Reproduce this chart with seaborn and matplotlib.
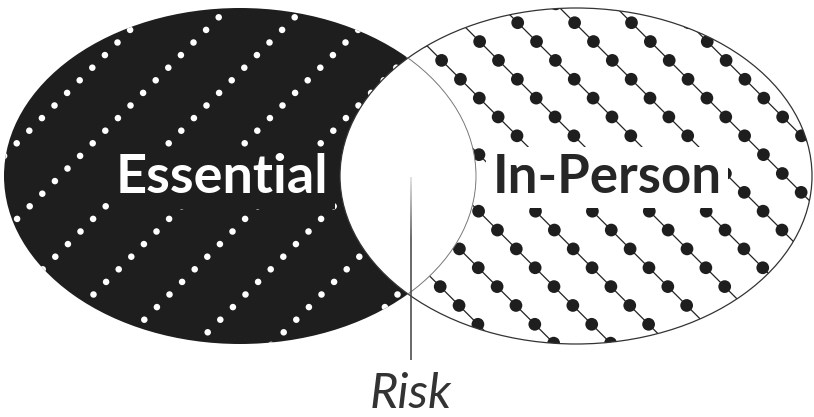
import numpy as np
import pandas as pd
import matplotlib
matplotlib.use("Agg")
import matplotlib.pyplot as plt
from matplotlib.patches import Ellipse
from matplotlib.collections import LineCollection
import seaborn as sns

# ---- content -------------------------------------------------------------
sets = ["Essential", "In-Person"]
overlap_label = "Risk"
set_text_colors = ["white", "#262626"]

# ---- style ---------------------------------------------------------------
sns.set_theme(style="white")
plt.rcParams["font.family"] = ["Lato", "DejaVu Sans"]

W, H = 814, 417
fig = plt.figure(figsize=(W / 100, H / 100), dpi=100)
ax = fig.add_axes([0, 0, 1, 1])

CY, A, B = 176, 236, 168
LX, RX = 240, 576
BLACK = "#1e1e1e"

# right set: white with dotted diagonal lines
rfill = Ellipse((RX, CY), 2 * A, 2 * B, fc="white", ec="none", zorder=1)
ax.add_patch(rfill)

r_base, r_sp, r_row0, r_step = 495.0, 56.9, 22.7, 18.85
r_cs = [r_base + k * r_sp for k in range(-12, 10)]
segs = [[(c - 20, -20), (c + H + 20, H + 20)] for c in r_cs]
lc = LineCollection(segs, colors="#222222", linewidths=0.9, zorder=2)
ax.add_collection(lc)
lc.set_clip_path(rfill)

rows = [r_row0 + j * r_step for j in range(-2, 22)]
rd = pd.DataFrame([(c + y, y) for c in r_cs for y in rows], columns=["x", "y"])
sns.scatterplot(data=rd, x="x", y="y", s=84, color=BLACK, edgecolor="none",
                linewidth=0, ax=ax, zorder=3, legend=False)
ax.collections[-1].set_clip_path(rfill)

# left set: black with white dots
lfill = Ellipse((LX, CY), 2 * A, 2 * B, fc=BLACK, ec="none", zorder=4)
ax.add_patch(lfill)

l_base, l_sp, l_row0, l_step = 236.0, 76.0, 17.3, 12.6
l_cs = [l_base + k * l_sp for k in range(-4, 12)]
lrows = [l_row0 + j * l_step for j in range(-2, 32)]
ld = pd.DataFrame([(c - y, y) for c in l_cs for y in lrows], columns=["x", "y"])
sns.scatterplot(data=ld, x="x", y="y", s=22, color="white", edgecolor="none",
                linewidth=0, ax=ax, zorder=5, legend=False)
ax.collections[-1].set_clip_path(lfill)

# intersection: white
ifill = Ellipse((RX, CY), 2 * A, 2 * B, fc="white", ec="none", zorder=6)
ax.add_patch(ifill)
ifill.set_clip_path(lfill)

# outlines
rout = Ellipse((RX, CY), 2 * A, 2 * B, fc="none", ec="#333333", lw=0.9, zorder=7)
ax.add_patch(rout)
lout = Ellipse((LX, CY), 2 * A, 2 * B, fc="none", ec="#808080", lw=0.7, zorder=7)
ax.add_patch(lout)
clipr = Ellipse((RX, CY), 2 * A + 2, 2 * B + 2, fc="none", ec="none")
ax.add_patch(clipr)
lout.set_clip_path(clipr)

# labels
ax.text(222, 193, sets[0], color=set_text_colors[0], fontsize=39,
        fontweight="bold", ha="center", va="baseline", zorder=8,
        bbox=dict(boxstyle="square,pad=0.12", fc=BLACK, ec="none"))
ax.text(607, 193, sets[1], color=set_text_colors[1], fontsize=38,
        fontweight="bold", ha="center", va="baseline", zorder=8,
        bbox=dict(boxstyle="square,pad=0.12", fc="white", ec="none"))

# pointer line (light at top, dark lower)
ys = np.linspace(177, 360, 80)
vsegs = [[(411, ys[i]), (411, ys[i + 1])] for i in range(len(ys) - 1)]
t = np.clip((ys[:-1] - 177) / 60, 0, 1)
cols = [(0.85 - 0.6 * v, 0.85 - 0.6 * v, 0.85 - 0.6 * v) for v in t]
vl = LineCollection(vsegs, colors=cols, linewidths=1.1, zorder=9)
ax.add_collection(vl)

ax.text(411, 416, overlap_label, color="#333333", fontsize=35, style="italic",
        ha="center", va="bottom", zorder=9)

ax.set_xlim(0, W)
ax.set_ylim(H, 0)
ax.axis("off")
fig.savefig("out.png", dpi=100)
